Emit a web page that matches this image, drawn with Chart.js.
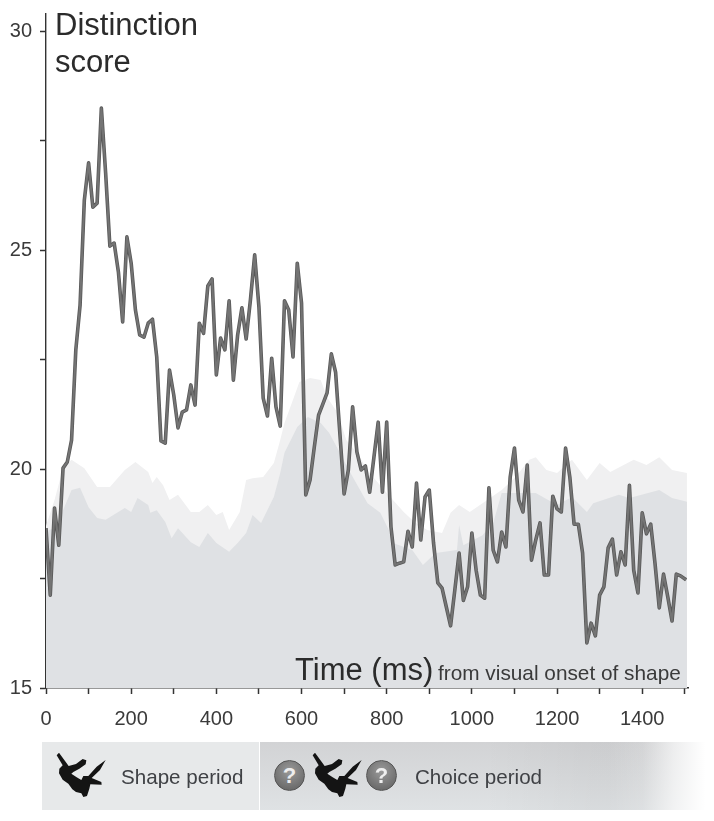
<!DOCTYPE html>
<html>
<head>
<meta charset="utf-8">
<title>Distinction score</title>
<script src="https://cdn.jsdelivr.net/npm/chart.js@4"></script>
<style>
  body { margin: 0; background: #fff; font-family: "Liberation Sans", Arial, sans-serif; }
  #page { position: relative; width: 714px; height: 821px; overflow: hidden; }
  #page canvas { position: absolute; left: 0; top: 0; }
  .label { position: absolute; white-space: nowrap; color: #2b2b2b; }
  .big { font-size: 31px; line-height: 36px; }
  .small { font-size: 20.8px; line-height: 22px; color: #3a3a3a; }
  .period { font-size: 20.6px; line-height: 24px; color: #3f4145; }
  .strip { position: absolute; top: 742px; height: 68px; }
  .mark { position: absolute; width: 80px; height: 70px; }
  .ask {
    position: absolute; top: 760px; width: 31px; height: 31px; border-radius: 50%;
    background: radial-gradient(circle at 50% 35%, #9a9a9a, #666 85%);
    border: 1px solid #555; box-sizing: border-box;
    color: #eee; font-weight: bold; font-size: 22px; line-height: 29px; text-align: center;
  }
</style>
</head>
<body>
<div id="page">
  <canvas id="score-chart" width="714" height="821"></canvas>

  <div class="label big" style="left:55px;top:7px">Distinction</div>
  <div class="label big" style="left:55px;top:44px">score</div>
  <div class="label big" style="left:295px;top:652px">Time (ms)</div>
  <div class="label small" style="left:438px;top:662px">from visual onset of shape</div>

  <div class="strip" style="left:42px;width:217px;background:#e7e9ea"></div>
  <div class="strip" style="left:260px;width:445px;background:linear-gradient(to right,rgba(255,255,255,0) 78%,rgba(255,255,255,.15) 86%,rgba(255,255,255,.65) 93%,#fff 100%),linear-gradient(to right,rgba(0,0,0,0) 50%,rgba(0,0,0,.03) 75%,rgba(0,0,0,.03) 100%),linear-gradient(to bottom,#d2d3d5,#dfe2e4)"></div>

  <svg class="mark" style="left:40px;top:740px" viewBox="0 0 240 210">
    <path id="shape" fill="#141414" d="M50 46 L57 38 L86 78 L108 72 L128 57 L139 61 L137 73 L118 86 L100 96 L94 101 L110 112 L124 120 L130 108 L145 108 L170 80 L197 60 L180 90 L155 114 L184 126 L185 134 L151 133 L148 146 L141 168 L130 171 L124 160 L108 156 L97 148 L85 131 L68 119 L57 100 L58 86 L68 76 Z"/>
  </svg>
  <svg class="mark" style="left:296px;top:740px" viewBox="0 0 240 210"><use href="#shape"/></svg>
  <div class="ask" style="left:274px">?</div>
  <div class="ask" style="left:366px">?</div>

  <div class="label period" style="left:121px;top:765px">Shape period</div>
  <div class="label period" style="left:415px;top:765px">Choice period</div>
</div>

<script>
// Distinction score, one value every 10 ms
const scoreTimes = [
  0, 10, 20, 30, 40, 50, 60, 70, 80, 90, 100, 110, 120, 130, 140, 150, 160, 170, 180, 190,
  200, 210, 220, 230, 240, 250, 260, 270, 280, 290, 300, 310, 320, 330, 340, 350, 360, 370, 380, 390,
  400, 410, 420, 430, 440, 450, 460, 470, 480, 490, 500, 510, 520, 530, 540, 550, 560, 570, 580, 590,
  600, 610, 620, 630, 640, 650, 660, 670, 680, 690, 700, 710, 720, 730, 740, 750, 760, 770, 780, 790,
  800, 810, 820, 830, 840, 850, 860, 870, 880, 890, 900, 910, 920, 930, 940, 950, 960, 970, 980, 990,
  1000, 1010, 1020, 1030, 1040, 1050, 1060, 1070, 1080, 1090, 1100, 1110, 1120, 1130, 1140, 1150, 1160, 1170, 1180, 1190,
  1200, 1210, 1220, 1230, 1240, 1250, 1260, 1270, 1280, 1290, 1300, 1310, 1320, 1330, 1340, 1350, 1360, 1370, 1380, 1390,
  1400, 1410, 1420, 1430, 1440, 1450, 1460, 1470, 1480, 1490, 1503
];
const scoreValues = [
  18.65, 17.12, 19.11, 18.26, 20.02, 20.16, 20.66, 22.72, 23.74, 26.14, 26.99, 25.98, 26.07, 28.24, 26.76, 25.09, 25.16, 24.5, 23.36, 25.3,
  24.7, 23.63, 23.06, 23.01, 23.33, 23.42, 22.56, 20.64, 20.59, 22.26, 21.69, 20.94, 21.3, 21.35, 21.92, 21.46, 23.33, 23.1, 24.18, 24.34,
  22.15, 22.99, 22.72, 23.84, 22.03, 23.06, 23.68, 22.97, 23.86, 24.89, 23.7, 21.62, 21.21, 22.53, 21.42, 20.98, 23.84, 23.63, 22.56, 24.7,
  23.79, 19.41, 19.75, 20.5, 21.23, 21.48, 21.74, 22.63, 22.21, 20.82, 19.43, 19.98, 21.42, 20.39, 19.98, 20.07, 19.47, 20.27, 21.07, 19.47,
  21.07, 18.68, 17.81, 17.85, 17.88, 18.58, 18.22, 19.68, 18.38, 19.36, 19.52, 18.31, 17.4, 17.28, 16.85, 16.42, 17.24, 18.08, 17.0, 17.31,
  18.54, 17.69, 17.12, 17.05, 19.57, 18.15, 17.88, 18.56, 18.22, 19.82, 20.48, 19.29, 19.02, 20.09, 17.92, 18.38, 18.77, 17.58, 17.58, 19.38,
  19.09, 19.02, 20.48, 19.82, 18.74, 18.74, 18.08, 16.03, 16.48, 16.19, 17.12, 17.31, 18.2, 18.4, 17.58, 18.11, 17.81, 19.63, 17.69, 17.17,
  19.0, 18.52, 18.74, 17.85, 16.83, 17.6, 17.08, 16.53, 17.6, 17.56, 17.47
];

// Light band behind the line
const upperTimes = [
  0, 20, 40, 60, 90, 120, 150, 185, 210, 240, 250, 260, 275, 290, 310, 340, 360, 380, 400, 415, 430, 455, 470, 485, 510,
  535, 550, 560, 580, 595, 620, 645, 660, 685, 705, 730, 760, 800, 840, 865, 895, 930, 950, 970, 995, 1025, 1070, 1100,
  1135, 1150, 1175, 1200, 1235, 1270, 1300, 1325, 1380, 1410, 1440, 1470, 1505
];
const upperValues = [
  18.7, 19.29, 20.02, 20.21, 20.02, 19.59, 19.59, 19.98, 20.16, 19.93, 19.68, 19.82, 19.63, 19.29, 19.41, 19.02, 19.02, 19.18, 18.95, 19.02, 18.61, 19.02, 19.75, 19.79, 19.82,
  20.14, 20.66, 21.05, 21.58, 21.99, 22.08, 22.03, 21.64, 21.28, 20.66, 20.37, 19.91, 19.45, 19.02, 18.79, 18.61, 18.54, 19.0, 19.18, 19.02, 19.22, 19.52, 19.79,
  20.21, 20.27, 19.98, 19.91, 20.21, 19.75, 20.14, 19.93, 20.21, 20.09, 20.27, 19.98, 19.91
];

// Darker band in front of it
const lowerTimes = [
  0, 20, 40, 60, 80, 100, 120, 140, 185, 200, 215, 240, 245, 260, 280, 295, 310, 340, 360, 380, 400, 430, 450, 470, 485,
  505, 535, 550, 560, 590, 615, 645, 665, 690, 715, 755, 785, 805, 815, 860, 885, 915, 965, 970, 980, 1025, 1050, 1070,
  1150, 1200, 1235, 1270, 1285, 1345, 1370, 1440, 1470, 1505
];
const lowerValues = [
  18.58, 18.65, 19.06, 19.52, 19.57, 19.13, 18.88, 18.84, 19.11, 19.02, 19.34, 19.18, 19.0, 19.06, 18.79, 18.42, 18.65, 18.33, 18.22, 18.54, 18.31, 18.11, 18.31, 18.54, 18.95,
  18.77, 19.36, 19.91, 20.37, 20.96, 21.19, 21.05, 20.82, 20.37, 19.91, 19.22, 19.0, 18.61, 18.31, 18.15, 17.81, 18.08, 18.15, 18.72, 18.26, 18.49, 18.77, 19.45,
  19.45, 19.18, 19.36, 19.02, 19.22, 19.41, 19.34, 19.52, 19.34, 19.25
];

const xTicks = [0, 100, 200, 300, 400, 500, 600, 700, 800, 900, 1000, 1100, 1200, 1300, 1400, 1500];
const yTicks = [15, 17.5, 20, 22.5, 25, 27.5, 30];
const xLabelled = [0, 200, 400, 600, 800, 1000, 1200, 1400];
const yLabelled = [15, 20, 25, 30];

function points(times, values) {
  return times.map((t, i) => ({ x: t, y: values[i] }));
}

function band(times, values, color) {
  return {
    data: points(times, values),
    borderWidth: 0,
    backgroundColor: color,
    fill: 'origin',
    pointRadius: 0,
  };
}

function scoreLine(color, width) {
  return {
    data: points(scoreTimes, scoreValues),
    borderColor: color,
    borderWidth: width,
    borderJoinStyle: 'round',
    fill: false,
    pointRadius: 0,
  };
}

const axisColor = '#333';
const tickFont = { family: '"Liberation Sans", Arial, sans-serif', size: 20 };

new Chart(document.getElementById('score-chart'), {
  type: 'line',
  data: {
    // first dataset is drawn last
    datasets: [
      scoreLine('#747474', 2),
      scoreLine('#585858', 3.6),
      band(lowerTimes, lowerValues, '#dfe1e4'),
      band(upperTimes, upperValues, '#f0f0f1'),
    ],
  },
  options: {
    responsive: false,
    animation: false,
    layout: { padding: { top: 14, right: 26, left: 0, bottom: 0 } },
    plugins: { legend: { display: false }, tooltip: { enabled: false } },
    scales: {
      x: {
        type: 'linear',
        min: 0,
        max: 1507.5,
        afterBuildTicks: axis => { axis.ticks = xTicks.map(v => ({ value: v })); },
        afterFit: axis => { axis.height = 133; axis.paddingLeft = 0; axis.paddingRight = 0; },
        border: { color: axisColor, width: 1.4 },
        grid: { drawOnChartArea: false, color: axisColor, tickLength: 6, tickWidth: 1.5 },
        ticks: {
          autoSkip: false,
          maxRotation: 0,
          padding: 13,
          color: '#3a3a3a',
          font: tickFont,
          callback: v => xLabelled.includes(v) ? String(v) : '',
        },
      },
      y: {
        min: 15,
        max: 30.39,
        afterBuildTicks: axis => { axis.ticks = yTicks.map(v => ({ value: v })); },
        afterFit: axis => { axis.width = 46; axis.paddingTop = 0; axis.paddingBottom = 0; },
        border: { color: axisColor, width: 1.4 },
        grid: { drawOnChartArea: false, color: axisColor, tickLength: 6, tickWidth: 1.5 },
        ticks: {
          autoSkip: false,
          padding: 8,
          color: '#3a3a3a',
          font: tickFont,
          callback: v => yLabelled.includes(v) ? String(v) : '',
        },
      },
    },
  },
});
</script>
</body>
</html>
